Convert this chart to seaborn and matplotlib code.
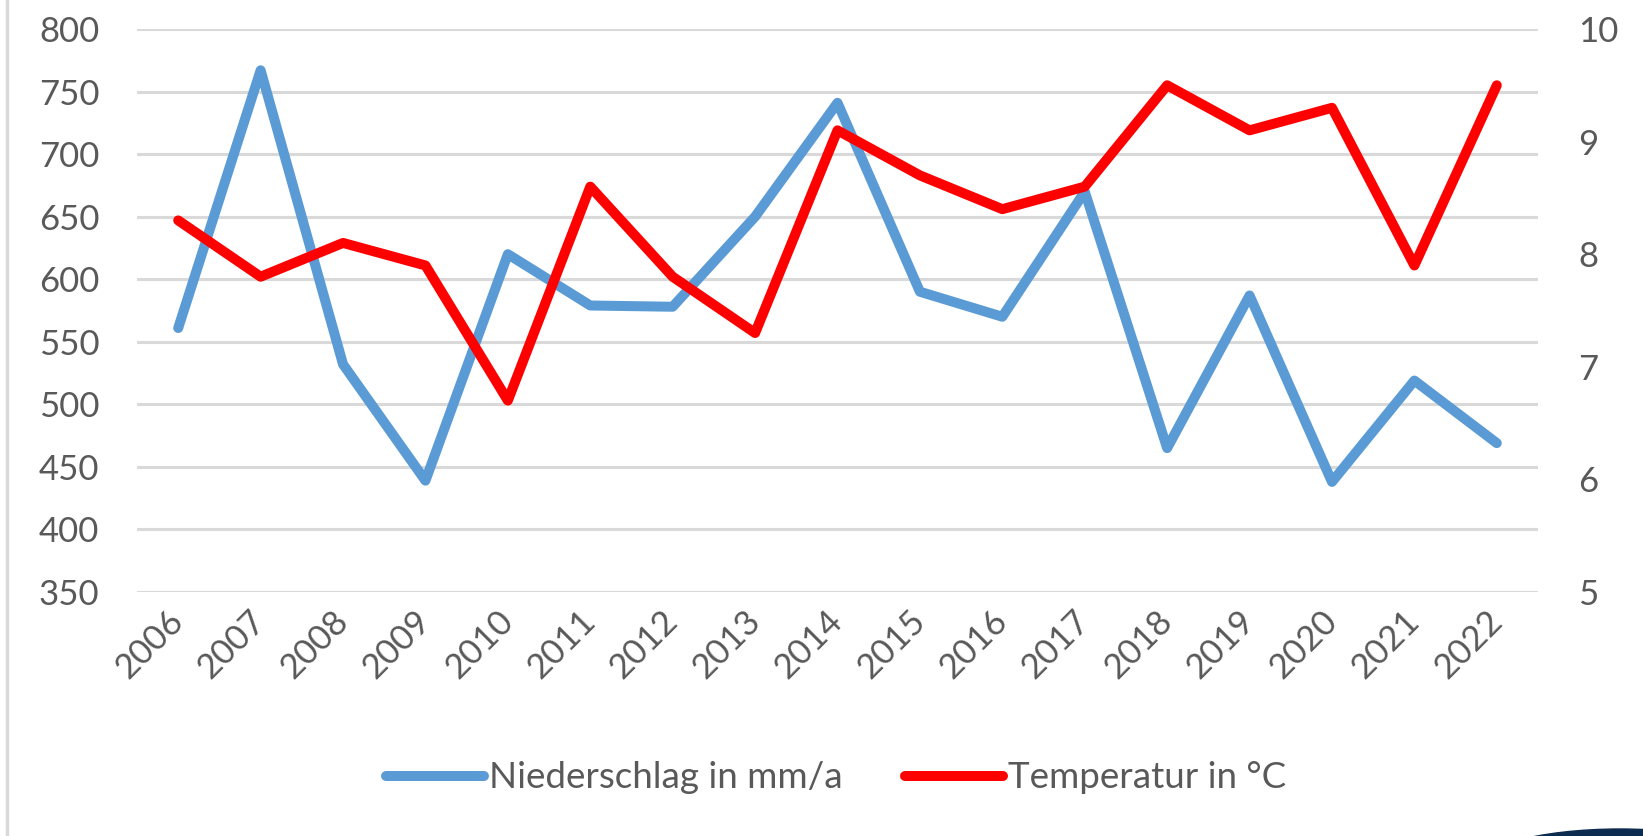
import numpy as np
import pandas as pd
import matplotlib
matplotlib.use("Agg")
import matplotlib.pyplot as plt
from matplotlib.patches import Ellipse
import seaborn as sns

# Jahreswerte
years = ["2006", "2007", "2008", "2009", "2010", "2011", "2012", "2013", "2014",
         "2015", "2016", "2017", "2018", "2019", "2020", "2021", "2022"]
niederschlag = [561, 767, 532, 439, 620, 579, 578, 650, 741,
                590, 570, 670, 465, 587, 438, 519, 469]
temperatur = [8.3, 7.8, 8.1, 7.9, 6.7, 8.6, 7.8, 7.3, 9.1,
              8.7, 8.4, 8.6, 9.5, 9.1, 9.3, 7.9, 9.5]

left_ticks = [350, 400, 450, 500, 550, 600, 650, 700, 750, 800]
right_ticks = [5, 6, 7, 8, 9, 10]

df = pd.DataFrame({"Jahr": years, "Niederschlag": niederschlag, "Temperatur": temperatur})

sns.set_style("white")
plt.rcParams["font.family"] = ["Lato", "DejaVu Sans"]

blue = "#5B9BD5"
red = "#FF0000"
grey_txt = "#595959"
grid_col = "#D9D9D9"

fig = plt.figure(figsize=(16.43, 8.36), dpi=100)
ax = fig.add_axes([137 / 1643, 1 - 592 / 836, (1538 - 137) / 1643, (592 - 29) / 836])
ax2 = ax.twinx()

line_kw = dict(linewidth=7.2, solid_capstyle="round", solid_joinstyle="round")
sns.lineplot(data=df, x="Jahr", y="Niederschlag", ax=ax, color=blue,
             label="Niederschlag in mm/a", legend=False, **line_kw)
sns.lineplot(data=df, x="Jahr", y="Temperatur", ax=ax2, color=red,
             label="Temperatur in °C", legend=False, **line_kw)

ax.set_xlim(-0.5, len(years) - 0.5)
ax.set_ylim(350, 800)
ax.set_yticks(left_ticks)
ax2.set_ylim(5, 10)
ax2.set_yticks(right_ticks)

for a in (ax, ax2):
    for s in a.spines.values():
        s.set_visible(False)
    a.set_xlabel("")
    a.set_ylabel("")

ax.grid(axis="y", color=grid_col, linewidth=2.2)
ax.set_axisbelow(True)
ax2.grid(False)

ax.tick_params(axis="y", length=0, pad=27, labelsize=25, labelcolor=grey_txt)
ax2.tick_params(axis="y", length=0, pad=29, labelsize=25, labelcolor=grey_txt)
ax.tick_params(axis="x", length=0, pad=17, labelsize=25, labelcolor=grey_txt)
ax.set_xticks(range(len(years)))
ax.set_xticklabels(years, rotation=45, ha="right", va="center", rotation_mode="anchor")

handles = [ax.get_lines()[0], ax2.get_lines()[0]]
leg = fig.legend(handles, [h.get_label() for h in handles], loc="center",
                 bbox_to_anchor=(0.509, 1 - 778 / 836), ncol=2, frameon=False,
                 fontsize=26.5, handlelength=2.65, handletextpad=0.14,
                 columnspacing=1.7)
for t in leg.get_texts():
    t.set_color(grey_txt)

# linker Rahmen und Logo-Rest unten rechts
fig.add_artist(plt.Line2D([7 / 1643, 7 / 1643], [0, 1], color=grid_col, linewidth=2.5))
fig.add_artist(Ellipse((1620 / 1643, 1 - 871 / 836), 300 / 1643, 84 / 836,
                       color="#0B2B4F", transform=fig.transFigure))

fig.savefig("out.png", dpi=100, facecolor="white")
